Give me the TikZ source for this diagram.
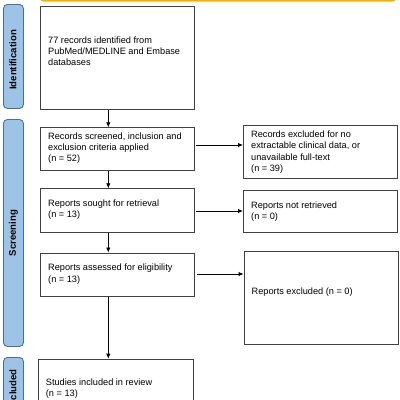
\documentclass[tikz,border=0pt]{standalone}
\usepackage{fontspec}
\setmainfont{Liberation Sans}
\usetikzlibrary{arrows.meta}
\definecolor{boxgray}{HTML}{404040}
\definecolor{barfill}{HTML}{9DC3E6}
\definecolor{barline}{HTML}{41719C}
\definecolor{goldline}{HTML}{F2B200}
\definecolor{goldfill}{HTML}{FFF2CC}
\begin{document}
\begin{tikzpicture}[x=1pt,y=-1pt,
  box/.style={draw=boxgray, line width=0.9pt, fill=white, inner sep=0pt, anchor=north west},
  txt/.style={inner sep=0pt, anchor=north west, align=left,
    font=\fontsize{9.2pt}{11.3pt}\selectfont},
  bar/.style={draw=barline, line width=0.9pt, fill=barfill, rounded corners=4pt,
    inner sep=0pt, anchor=north west, minimum width=20pt},
  bartxt/.style={rotate=90, inner sep=0pt, font=\fontsize{9.6pt}{11pt}\selectfont\bfseries},
  arr/.style={draw=black, line width=0.8pt, -{Latex[length=5pt,width=4.5pt]}}
  ]
\useasboundingbox (0,0) rectangle (400,400);
% top header box (cut off)
\node[draw=goldline, line width=1.3pt, fill=goldfill, rounded corners=3pt,
  inner sep=0pt, anchor=south west, minimum width=355pt, minimum height=20pt] (hdr) at (40,1.5) {};
% side bars
\node[bar, minimum height=104pt] (sid) at (3,4) {};
\node[bartxt] (lid) at (13,60) {Identification};
\node[bar, minimum height=227pt] (ssc) at (3,119) {};
\node[bartxt] (lsc) at (ssc.center) {Screening};
\node[bar, minimum height=64pt] (sin) at (3,357) {};
\node[bartxt] (lin) at (13,389) {Included};
% boxes
\node[box, minimum width=154pt, minimum height=103pt] (b1) at (40,6) {};
\node[txt] (t1) at (48,36.4) {77 records identified from\\PubMed/MEDLINE and Embase\\databases};
\node[box, minimum width=154pt, minimum height=43pt] (b2) at (40,127.3) {};
\node[txt] (t2) at (48,132.4) {Records screened, inclusion and\\exclusion criteria applied\\(n = 52)};
\node[box, minimum width=154pt, minimum height=53pt] (e1) at (243,124.5) {};
\node[txt] (te1) at (251,130.7) {Records excluded for no\\extractable clinical data, or\\unavailable full-text\\(n = 39)};
\node[box, minimum width=154pt, minimum height=44pt] (b3) at (40,188.3) {};
\node[txt] (t3) at (48,199.7) {Reports sought for retrieval\\(n = 13)};
\node[box, minimum width=154pt, minimum height=42.5pt] (e2) at (243,189.5) {};
\node[txt] (te2) at (251,201.4) {Reports not retrieved\\(n = 0)};
\node[box, minimum width=154pt, minimum height=43.5pt] (b4) at (40,252.5) {};
\node[txt] (t4) at (48,264) {Reports assessed for eligibility\\(n = 13)};
\node[box, minimum width=154pt, minimum height=93.5pt] (e3) at (243.5,250.8) {};
\node[txt] (te3) at (251.5,287.4) {Reports excluded (n = 0)};
\node[box, minimum width=155pt, minimum height=62pt] (b5) at (37.7,358.7) {};
\node[txt] (t5) at (45.7,378.4) {Studies included in review\\(n = 13)};
% arrows
\coordinate (ax) at (108.3,0);
\draw[arr] (b1.south -| ax) -- (b2.north -| ax);
\draw[arr] (b2.south -| ax) -- (b3.north -| ax);
\draw[arr] (b3.south -| ax) -- (b4.north -| ax);
\draw[arr] (b4.south -| ax) -- (b5.north -| ax);
\draw[arr] ([xshift=1pt]b2.east |- 0,145) -- (e1.west |- 0,145);
\draw[arr] ([xshift=1pt]b3.east |- 0,211) -- (e2.west |- 0,211);
\draw[arr] ([xshift=2.5pt]b4.east |- 0,274) -- (e3.west |- 0,274);
\end{tikzpicture}
\end{document}
